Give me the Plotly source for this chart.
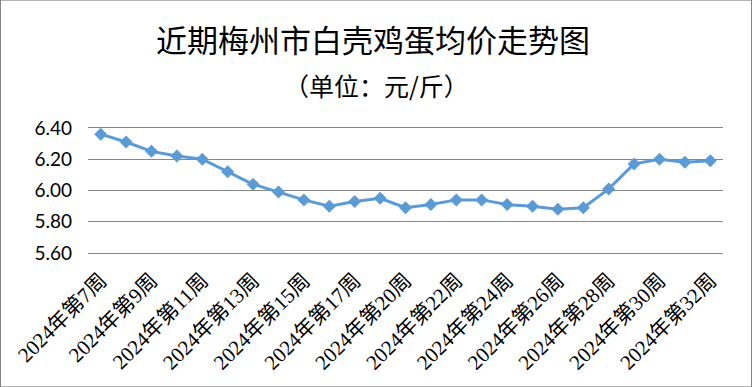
import plotly.graph_objects as go

weeks = [7, 8, 9, 10, 11, 12, 13, 14, 15, 16, 17, 19, 20, 21, 22, 23, 24, 25, 26, 27, 28, 29, 30, 31, 32]
categories = [f"2024年第{w}周" for w in weeks]
prices = [6.36, 6.31, 6.25, 6.22, 6.20, 6.12, 6.04, 5.99, 5.94, 5.90, 5.93, 5.95,
          5.89, 5.91, 5.94, 5.94, 5.91, 5.90, 5.88, 5.89, 6.01, 6.17, 6.20, 6.18, 6.19]
y_ticks = [5.60, 5.80, 6.00, 6.20, 6.40]
tick_cats = categories[::2]

W, H = 752, 387
pad = 0.012
unit = 125 / 0.8
ml, mr = 88, 29
mt = 128 - pad * unit
mb = 134 - pad * unit
pw, ph = W - ml - mr, H - mt - mb

fig = go.Figure()
fig.add_trace(go.Scatter(
    x=categories, y=prices, mode="lines+markers",
    line=dict(color="#5B9BD5", width=3),
    marker=dict(symbol="diamond", size=10, color="#5B9BD5"),
    hoverinfo="x+y", showlegend=False,
))

fig.update_layout(
    width=W, height=H,
    margin=dict(l=ml, r=mr, t=mt, b=mb, autoexpand=False),
    paper_bgcolor="white", plot_bgcolor="white",
    title=dict(text="近期梅州市白壳鸡蛋均价走势图", x=0.496, xref="container", xanchor="center",
               y=1 - 41 / H, yref="container", yanchor="middle",
               font=dict(family="Noto Sans CJK SC", size=31, color="black")),
    xaxis=dict(type="category", tickmode="array", tickvals=tick_cats, ticktext=tick_cats,
               tickangle=-45, showgrid=False, showline=False, ticks="", automargin=False,
               ticklabelstandoff=int(round(6 + pad * unit)),
               tickfont=dict(family="Liberation Serif, Noto Sans CJK SC", size=21, color="black"),
               range=[-0.5, len(categories) - 0.5]),
    yaxis=dict(range=[5.60 - pad, 6.40 + pad], tickvals=y_ticks, tickformat=".2f",
               showgrid=True, gridcolor="#868686", gridwidth=1, zeroline=False,
               showline=False, ticks="", ticklabelstandoff=15, automargin=False,
               tickfont=dict(family="Lato, Liberation Sans", size=19, color="black")),
    annotations=[dict(text="（单位：元/斤）", x=(376 - ml) / pw, xref="paper", xanchor="center",
                      y=(H - mb - 85) / ph, yref="paper", yanchor="middle", showarrow=False,
                      font=dict(family="Noto Sans CJK SC", size=25, color="black"))],
    shapes=[dict(type="rect", xref="paper", yref="paper",
                 x0=(0.5 - ml) / pw, x1=(W - 0.5 - ml) / pw,
                 y0=(-mb + 0.5) / ph, y1=(H - mb - 0.5) / ph,
                 line=dict(color="#868686", width=1))],
)

fig.write_html("out.html", config={"displayModeBar": False},
               post_script="document.body.style.margin='0';document.body.style.overflow='hidden';")
